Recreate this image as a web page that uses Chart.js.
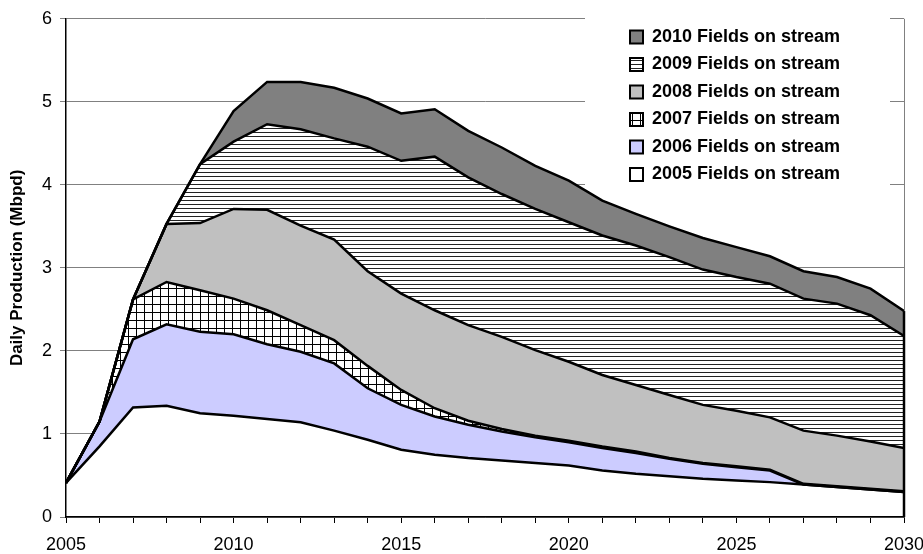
<!DOCTYPE html>
<html><head><meta charset="utf-8">
<script src="https://cdn.jsdelivr.net/npm/chart.js@4.4.1/dist/chart.umd.min.js"></script>
<style>html,body{margin:0;padding:0;background:#fff;overflow:hidden}#wrap{width:923px;height:554px}</style>
</head><body>
<div id="wrap"><canvas id="c" width="923" height="554"></canvas></div>
<script>
// ---- data ----
const years = [2005,2006,2007,2008,2009,2010,2011,2012,2013,2014,2015,2016,2017,2018,2019,2020,2021,2022,2023,2024,2025,2026,2027,2028,2029,2030];
const seriesNames = ['2005 Fields on stream','2006 Fields on stream','2007 Fields on stream','2008 Fields on stream','2009 Fields on stream','2010 Fields on stream'];
const fields2005 = [0.41,0.85,1.32,1.34,1.25,1.22,1.18,1.14,1.04,0.93,0.81,0.75,0.71,0.68,0.65,0.62,0.56,0.52,0.49,0.46,0.44,0.42,0.39,0.36,0.33,0.30];
const fields2006 = [0,0.30,0.82,0.98,0.98,0.98,0.90,0.85,0.81,0.62,0.54,0.46,0.40,0.35,0.31,0.28,0.27,0.25,0.21,0.18,0.16,0.14,0,0,0,0];
const fields2007 = [0,0,0.48,0.51,0.50,0.43,0.41,0.32,0.28,0.27,0.18,0.10,0.05,0.03,0.02,0.02,0.02,0.02,0.01,0.01,0.01,0.01,0.01,0.01,0.01,0.01];
const fields2008 = [0,0,0,0.70,0.81,1.08,1.21,1.20,1.21,1.14,1.16,1.18,1.15,1.11,1.03,0.95,0.86,0.80,0.76,0.70,0.67,0.63,0.64,0.61,0.57,0.52];
const fields2009 = [0,0,0,0,0.71,0.81,1.03,1.16,1.22,1.50,1.60,1.85,1.78,1.72,1.70,1.68,1.68,1.68,1.66,1.63,1.61,1.61,1.59,1.59,1.52,1.35];
const fields2010 = [0,0,0,0,0,0.37,0.51,0.57,0.61,0.58,0.57,0.57,0.56,0.56,0.52,0.50,0.42,0.38,0.37,0.38,0.36,0.33,0.33,0.32,0.32,0.30];
const yTicks = [0,1,2,3,4,5,6];
const xLabelYears = [2005,2010,2015,2020,2025,2030];

// ---- styles ----
const canvas = document.getElementById('c');
const ctx0 = canvas.getContext('2d');
function makePattern(kind){
  const p = document.createElement('canvas');
  const g = p.getContext('2d');
  if (kind === 'grid') {
    p.width = 8; p.height = 8;
    g.fillStyle = '#fff'; g.fillRect(0,0,8,8);
    g.fillStyle = '#000'; g.fillRect(0,0,8,1); g.fillRect(0,0,1,8);
  } else {
    p.width = 4; p.height = 4;
    g.fillStyle = '#fff'; g.fillRect(0,0,4,4);
    g.fillStyle = '#222'; g.fillRect(0,0,4,1);
  }
  return ctx0.createPattern(p, 'repeat');
}
const fills = ['#ffffff', '#ccccff', makePattern('grid'), '#c0c0c0', makePattern('hlines'), '#808080'];
const seriesData = [fields2005, fields2006, fields2007, fields2008, fields2009, fields2010];

const datasets = seriesData.map((arr, i) => ({
  label: seriesNames[i],
  data: arr.map((v, j) => ({x: years[j], y: v})),
  backgroundColor: fills[i],
  borderColor: '#000',
  borderWidth: 2.5,
  pointRadius: 0,
  pointHoverRadius: 0,
  tension: 0,
  fill: i === 0 ? 'origin' : '-1'
}));

const FONT = '"Liberation Sans", Arial, Helvetica, sans-serif';

const framePlugin = {
  id: 'frame',
  afterInit(chart) {
    const i = chart.boxes.indexOf(chart.legend);
    if (i >= 0) chart.boxes.splice(i, 1);
  },
  afterLayout(chart) {
    const lg = chart.legend;
    lg.update(320, 200, {top: 0, left: 0, right: 0, bottom: 0});
    lg.left = 620.5; lg.top = 18.5;
    lg.right = lg.left + lg.width; lg.bottom = lg.top + lg.height;
  },
  beforeDatasetsDraw(chart) {
    const {ctx, chartArea: a} = chart;
    ctx.save();
    ctx.strokeStyle = '#808080'; ctx.lineWidth = 1;
    ctx.beginPath(); ctx.moveTo(a.right + 0.5, a.top); ctx.lineTo(a.right + 0.5, a.bottom); ctx.stroke();
    ctx.restore();
  },
  afterDatasetsDraw(chart) {
    const {ctx} = chart;
    const xs = chart.scales.x, ys = chart.scales.y;
    const last = years.length - 1;
    const total = seriesData.reduce((s, arr) => s + arr[last], 0);
    ctx.save();
    ctx.strokeStyle = '#000'; ctx.lineWidth = 2.5;
    const px = xs.getPixelForValue(years[last]);
    ctx.beginPath(); ctx.moveTo(px, ys.getPixelForValue(0)); ctx.lineTo(px, ys.getPixelForValue(total)); ctx.stroke();
    // legend background
    ctx.fillStyle = '#fff';
    ctx.fillRect(585, 18, 305, 168);
    ctx.restore();
    chart.legend.draw();
  }
};

new Chart(canvas, {
  type: 'line',
  data: { datasets },
  options: {
    responsive: false,
    animation: false,
    devicePixelRatio: 1,
    layout: { padding: { top: 16, right: 0, bottom: 0, left: 0 } },
    plugins: {
      tooltip: { enabled: false },
      filler: { drawTime: 'beforeDatasetsDraw' },
      legend: {
        display: true,
        position: 'right',
        align: 'start',
        reverse: true,
        labels: {
          boxWidth: 13, boxHeight: 13, padding: 9.5, color: '#000',
          font: { family: FONT, size: 18, weight: 'bold' },
          generateLabels(chart) {
            return Chart.defaults.plugins.legend.labels.generateLabels(chart).map(it => Object.assign(it, {lineWidth: 2, strokeStyle: '#000'}));
          }
        }
      }
    },
    scales: {
      x: {
        type: 'linear', min: years[0], max: years[years.length - 1],
        afterBuildTicks(scale) { scale.ticks = years.map(v => ({value: v})); },
        afterFit(scale) { scale.height = 37; scale.paddingRight = 19; },
        grid: { drawOnChartArea: false, drawTicks: true, tickLength: 6, color: '#000', lineWidth: 1 },
        border: { color: '#000', width: 1.5, z: 1 },
        ticks: {
          autoSkip: false, maxRotation: 0, padding: 11, color: '#000',
          font: { family: FONT, size: 18 },
          callback: (v) => xLabelYears.includes(v) ? String(v) : ''
        }
      },
      y: {
        stacked: true, min: 0, max: 6,
        afterBuildTicks(scale) { scale.ticks = yTicks.map(v => ({value: v})); },
        afterFit(scale) { scale.width = 66; },
        grid: { color: '#808080', lineWidth: 1, drawTicks: true, tickLength: 6 },
        border: { color: '#000', width: 1.5, z: 1 },
        ticks: { padding: 8, color: '#000', font: { family: FONT, size: 18 } },
        title: { display: true, text: 'Daily Production (Mbpd)', color: '#000', padding: {top: 7, bottom: 0}, font: { family: FONT, size: 17, weight: 'bold' } }
      }
    }
  },
  plugins: [framePlugin]
});
</script>
</body></html>
